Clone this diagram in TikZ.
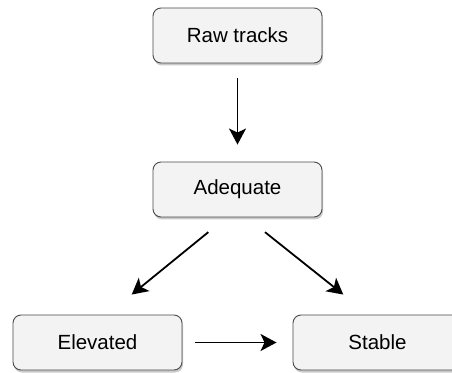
\documentclass[tikz,border=0pt]{standalone}
\usepackage{fontspec}
\setmainfont{Liberation Sans}
\usetikzlibrary{arrows.meta,shadows}
\definecolor{boxfill}{HTML}{F3F3F3}
\definecolor{boxline}{HTML}{4A4A4A}
\tikzset{
  statebox/.style={draw=boxline, fill=boxfill, line width=0.9pt, rounded corners=8pt,
    minimum width=169pt, minimum height=55pt, inner sep=0pt,
    font=\fontsize{20.5}{24}\selectfont,
    drop shadow={shadow xshift=1pt, shadow yshift=-2.5pt, opacity=0.35, fill=black!60}},
  arr/.style={line width=1.8pt, -{Stealth[length=16pt,width=17pt,inset=4pt]}}
}
\begin{document}
\begin{tikzpicture}[x=1pt,y=1pt]
\path[use as bounding box, clip] (0,0) rectangle (452,372);
\node[statebox] (raw) at (237.5,336.5) {Raw tracks};
\node[statebox] (ade) at (237.5,182.5) {Adequate};
\node[statebox] (elev) at (97.5,29.5) {Elevated};
\node[statebox] (stab) at (377.5,29.5) {Stable};
\draw[arr] ([yshift=-15pt]raw.south) -- ([yshift=17pt]ade.north);
\draw[arr] ([xshift=-29.2pt,yshift=-14.7pt]ade.south) -- ([xshift=34.2pt,yshift=20pt]elev.north);
\draw[arr] ([xshift=27.5pt,yshift=-14.7pt]ade.south) -- ([xshift=-34.2pt,yshift=20pt]stab.north);
\draw[arr] ([xshift=13pt]elev.east) -- ([xshift=-16pt]stab.west);
\end{tikzpicture}
\end{document}
